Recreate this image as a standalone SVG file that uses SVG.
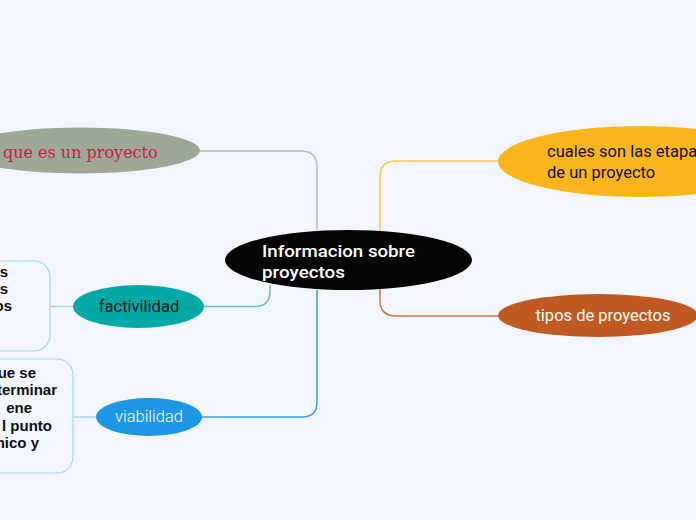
<svg xmlns="http://www.w3.org/2000/svg" width="696" height="520" viewBox="0 0 696 520">
<style>
.t{font-family:Roboto,"Liberation Sans",sans-serif;font-size:16.5px}
.b{font-family:"Liberation Sans",Arial,sans-serif;font-size:15px;font-weight:bold;fill:#111}
.c{fill:none;stroke-width:1.5}
</style>
<rect width="696" height="520" fill="#f3f6fe"/>
<g id="connectors">
<path class="c" d="M200 151 H301 Q317 151 317 167 V230" stroke="#b8beb3"/>
<path class="c" d="M498 161 H396 Q380 161 380 177 V232" stroke="#fcc84e"/>
<path class="c" d="M380 289 V300 Q380 316 396 316 H498" stroke="#c9764a"/>
<path class="c" d="M204 306.5 H255 Q270 306.5 270 291 V285" stroke="#5cc5c2"/>
<path class="c" d="M202 417 H302 Q317 417 317 402 V290" stroke="#3aa0ea"/>
<path class="c" d="M73 306.5 H50" stroke="#9ddad8"/>
<path class="c" d="M96 417 H73" stroke="#a8d4f5"/>
</g>
<g id="node-que-es">
<ellipse cx="80" cy="150.5" rx="120" ry="23" fill="#9ea896"/>
<text x="3" y="158" font-family="'DejaVu Serif',Georgia,serif" font-size="16" fill="#c41e3a">que es un proyecto</text>
</g>
<g id="node-center">
<ellipse cx="348.5" cy="260" rx="123.5" ry="30" fill="#050505"/>
<text class="t" x="262" y="257" fill="#fff" font-size="21" font-weight="500" textLength="153" lengthAdjust="spacingAndGlyphs">Informacion sobre</text>
<text class="t" x="262" y="278" fill="#fff" font-size="21" font-weight="500" textLength="83" lengthAdjust="spacingAndGlyphs">proyectos</text>
</g>
<g id="node-etapas">
<ellipse cx="640" cy="161.5" rx="142" ry="35.5" fill="#fdb51d"/>
<text class="t" x="547" y="157" fill="#111">cuales son las etapas</text>
<text class="t" x="547" y="178" fill="#111">de un proyecto</text>
</g>
<g id="node-tipos">
<ellipse cx="598" cy="315.5" rx="100" ry="21.5" fill="#c05a22"/>
<text class="t" x="603" y="321" fill="#fff" text-anchor="middle">tipos de proyectos</text>
</g>
<g id="node-factivilidad">
<ellipse cx="138.5" cy="306.5" rx="65.5" ry="21.5" fill="#00a9a5"/>
<text class="t" x="139" y="312" fill="#111" text-anchor="middle">factivilidad</text>
</g>
<g id="node-factivilidad-note">
<rect x="-60" y="261" width="110" height="90" rx="16" fill="none" stroke="#9ddad8" stroke-width="1.2"/>
<text class="b" x="8" y="277" text-anchor="end">s</text>
<text class="b" x="8" y="294" text-anchor="end">s</text>
<text class="b" x="12" y="311" text-anchor="end">os</text>
</g>
<g id="node-viabilidad">
<ellipse cx="149" cy="417" rx="53" ry="19" fill="#1e96e6"/>
<text class="t" x="149" y="422" fill="#fff" font-size="14.5" font-weight="300" text-anchor="middle">viabilidad</text>
</g>
<g id="node-viabilidad-note">
<rect x="-60" y="359" width="133" height="114" rx="16" fill="none" stroke="#a8d4f5" stroke-width="1.2"/>
<text class="b" x="36" y="378" text-anchor="end">ue se</text>
<text class="b" x="57" y="395" text-anchor="end">terminar</text>
<text class="b" x="32" y="413" text-anchor="end">ene</text>
<text class="b" x="52" y="431" text-anchor="end">l punto</text>
<text class="b" x="39" y="448" text-anchor="end">nico y</text>
</g>
</svg>
